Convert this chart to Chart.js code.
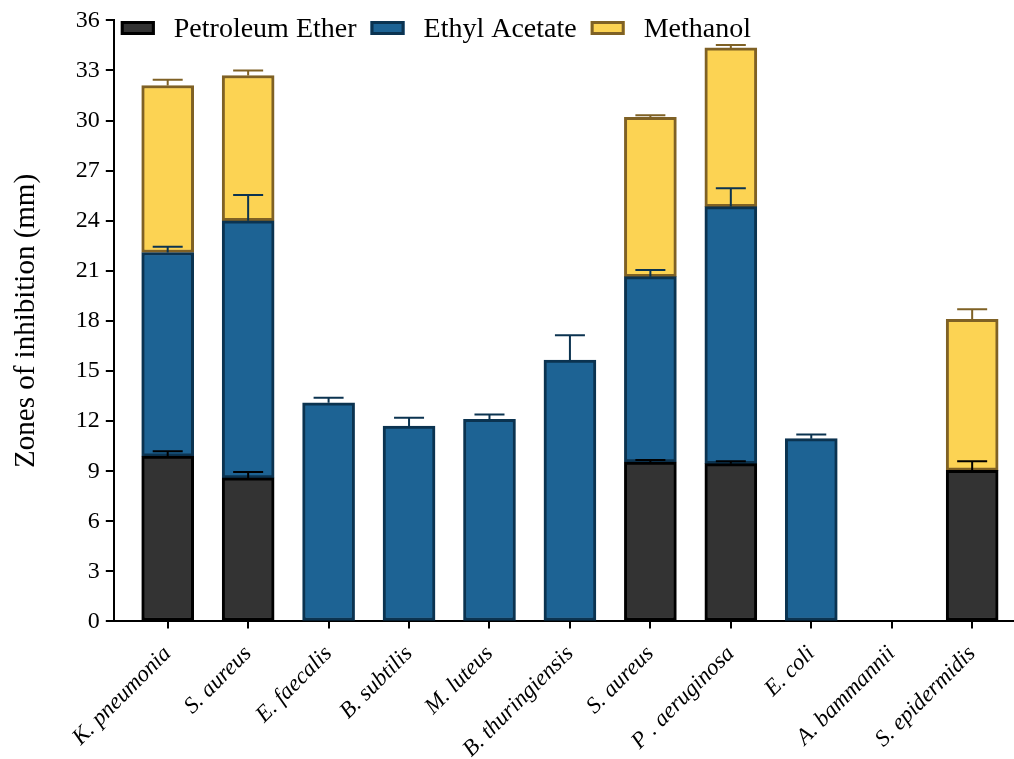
<!DOCTYPE html>
<html>
<head>
<meta charset="utf-8">
<script src="https://cdn.jsdelivr.net/npm/chart.js@4"></script>
<style>
  html, body { margin: 0; padding: 0; background: #fff; }
  #wrap { width: 1014px; height: 759px; }
</style>
</head>
<body>
<div id="wrap"><canvas id="zoneChart"></canvas></div>
<script>
const categories = ['K. pneumonia', 'S. aureus', 'E. faecalis', 'B. subtilis', 'M. luteus', 'B. thuringiensis',
                    'S. aureus', 'P . aeruginosa', 'E. coli', 'A. bammannii', 'S. epidermidis'];
const yTicks = [0, 3, 6, 9, 12, 15, 18, 21, 24, 27, 30, 33, 36];

// segment heights (mm) and upper error
const petroleum    = [9.9, 8.6, null, null, null, null, 9.55, 9.45, null, null, 9.05];
const petroleumErr = [0.3, 0.35, null, null, null, null, 0.12, 0.15, null, null, 0.55];
const ethyl        = [12.2, 15.4, 13.1, 11.7, 12.1, 15.65, 11.1, 15.4, 10.95, null, null];
const ethylErr     = [0.35, 1.55, 0.3, 0.5, 0.3, 1.5, 0.4, 1.1, 0.25, null, null];
const methanol     = [10.0, 8.7, null, null, null, null, 9.55, 9.5, null, null, 9.05];
const methanolErr  = [0.35, 0.3, null, null, null, null, 0.12, 0.18, null, null, 0.6];

function points(arr) {
    return arr.map((v, i) => ({ x: i, y: v }));
}

// error bars, upward only, drawn on top of everything
const errorBars = {
    id: 'errorBars',
    afterDatasetsDraw(chart) {
        const ctx = chart.ctx;
        const yScale = chart.scales.y;
        chart.data.datasets.forEach((ds, i) => {
            const meta = chart.getDatasetMeta(i);
            meta.data.forEach((bar, j) => {
                const e = ds.errors[j];
                if (e == null || ds.data[j].y == null) return;
                const len = yScale.getPixelForValue(0) - yScale.getPixelForValue(e);
                const top = bar.y - len;
                ctx.save();
                ctx.strokeStyle = ds.borderColor;
                ctx.lineWidth = 2;
                ctx.beginPath();
                ctx.moveTo(bar.x, bar.y);
                ctx.lineTo(bar.x, top);
                ctx.moveTo(bar.x - 15, top);
                ctx.lineTo(bar.x + 15, top);
                ctx.stroke();
                ctx.restore();
            });
        });
    }
};

// legend sitting inside the plot, top left
const innerLegend = {
    id: 'innerLegend',
    afterDraw(chart) {
        const ctx = chart.ctx;
        let x = chart.chartArea.left + 7;
        const y = 28;
        ctx.save();
        ctx.font = '28px "Liberation Serif"';
        ctx.textBaseline = 'middle';
        chart.data.datasets.forEach(ds => {
            ctx.fillStyle = ds.backgroundColor;
            ctx.fillRect(x, y - 7, 34, 14);
            ctx.strokeStyle = ds.borderColor;
            ctx.lineWidth = 3;
            ctx.strokeRect(x + 1.5, y - 5.5, 31, 11);
            x += 34 + 19;
            ctx.fillStyle = '#000';
            ctx.fillText(ds.label, x, y + 2);
            x += ctx.measureText(ds.label).width + 14;
        });
        ctx.restore();
    }
};

const ctx = document.getElementById('zoneChart').getContext('2d');
new Chart(ctx, {
    type: 'bar',
    data: {
        datasets: [
            { label: 'Petroleum Ether', data: points(petroleum), errors: petroleumErr,
              backgroundColor: '#333333', borderColor: '#000000' },
            { label: 'Ethyl Acetate', data: points(ethyl), errors: ethylErr,
              backgroundColor: '#1d6394', borderColor: '#0b3350' },
            { label: 'Methanol', data: points(methanol), errors: methanolErr,
              backgroundColor: '#fcd353', borderColor: '#7f6125' }
        ]
    },
    options: {
        responsive: true,
        maintainAspectRatio: false,
        animation: false,
        datasets: { bar: { barThickness: 52, borderWidth: 3, borderSkipped: false } },
        layout: { padding: { top: 14, right: 0, left: 5, bottom: -16 } },
        plugins: { legend: { display: false }, tooltip: { enabled: false } },
        scales: {
            x: {
                type: 'linear',
                stacked: true,
                offset: false,
                min: -0.67,
                max: 10.52,
                grid: { display: true, offset: false, drawOnChartArea: false, drawTicks: true, tickLength: 7, color: '#000', lineWidth: 2 },
                border: { display: true, color: '#000', width: 2 },
                afterBuildTicks(scale) {
                    scale.ticks = categories.map((c, i) => ({ value: i }));
                },
                ticks: {
                    autoSkip: false,
                    minRotation: 45,
                    maxRotation: 45,
                    color: '#000',
                    padding: 12,
                    font: { family: 'Liberation Serif', size: 23, style: 'italic' },
                    callback: (v) => categories[v]
                }
            },
            y: {
                stacked: true,
                min: 0,
                max: 36,
                afterBuildTicks(scale) {
                    scale.ticks = yTicks.map(v => ({ value: v }));
                },
                grid: { display: true, drawOnChartArea: false, drawTicks: true, tickLength: 8, color: '#000', lineWidth: 2 },
                border: { display: true, color: '#000', width: 2 },
                ticks: {
                    color: '#000',
                    padding: 6,
                    font: { family: 'Liberation Serif', size: 24 }
                },
                title: {
                    display: true,
                    text: 'Zones of inhibition (mm)',
                    color: '#000',
                    padding: { bottom: 26 },
                    font: { family: 'Liberation Serif', size: 29 }
                }
            }
        }
    },
    plugins: [errorBars, innerLegend]
});
</script>
</body>
</html>
